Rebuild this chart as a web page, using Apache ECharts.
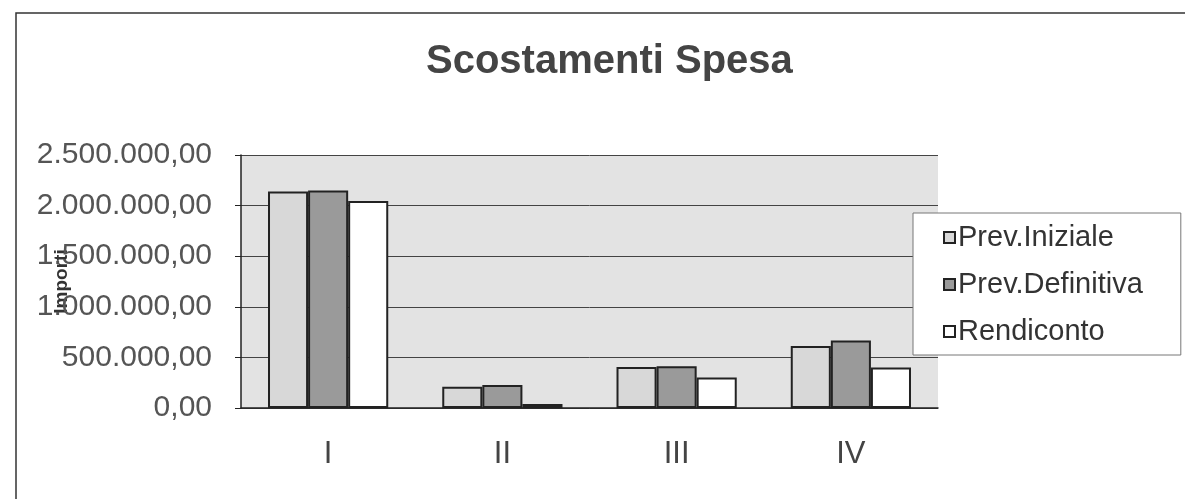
<!DOCTYPE html>
<html>
<head>
<meta charset="utf-8">
<script src="https://cdn.jsdelivr.net/npm/echarts@6/dist/echarts.min.js"></script>
<style>
  html, body { margin: 0; padding: 0; background: #fff; }
  #chart { width: 1185px; height: 499px; }
</style>
</head>
<body>
<div id="chart"></div>
<script>
// chart data
var categories = ['I', 'II', 'III', 'IV'];
var prevIniziale = [2140000, 210000, 405000, 612000];
var prevDefinitiva = [2150000, 228000, 412000, 668000];
var rendiconto = [2045000, 40000, 302000, 400000];
var yTicks = { min: 0, max: 2500000, interval: 500000 };

function fmtIt(v) {
  var s = Math.round(v).toString().replace(/\B(?=(\d{3})+(?!\d))/g, '.');
  return s + ',00';
}

var barBorder = { borderColor: '#222', borderWidth: 2 };

var myChart = echarts.init(document.getElementById('chart'));
myChart.setOption({
  backgroundColor: '#fff',
  animation: false,
  title: {
    text: 'Scostamenti Spesa',
    left: 421,
    top: 37,
    textStyle: {
      fontFamily: 'Liberation Sans',
      fontSize: 40,
      fontWeight: 'bold',
      color: '#444'
    }
  },
  graphic: [{
    type: 'polyline',
    shape: { points: [[16, 499], [16, 13], [1185, 13]] },
    style: { stroke: '#333', lineWidth: 1.5, fill: null }
  }],
  legend: {
    orient: 'vertical',
    left: 913,
    top: 213,
    padding: [10, 38, 9, 30],
    itemGap: 18,
    itemWidth: 11,
    itemHeight: 11,
    icon: 'rect',
    backgroundColor: '#fff',
    borderColor: '#777',
    borderWidth: 1,
    textStyle: {
      fontFamily: 'Liberation Sans',
      fontSize: 29,
      color: '#333',
      padding: [0, 0, 0, -2]
    },
    data: ['Prev.Iniziale', 'Prev.Definitiva', 'Rendiconto']
  },
  grid: {
    left: 241,
    right: 247,
    top: 155,
    bottom: 91,
    show: true,
    backgroundColor: '#e3e3e3',
    borderWidth: 0
  },
  xAxis: {
    type: 'category',
    data: categories,
    axisLine: { lineStyle: { color: '#222', width: 1.5 } },
    axisTick: { length: 7, lineStyle: { color: '#222' } },
    axisLabel: {
      margin: 31,
      fontFamily: 'Liberation Sans',
      fontSize: 31,
      color: '#444'
    }
  },
  yAxis: {
    type: 'value',
    min: yTicks.min,
    max: yTicks.max,
    interval: yTicks.interval,
    name: 'Importi',
    nameLocation: 'middle',
    nameGap: 170,
    nameRotate: 90,
    nameMoveOverlap: false,
    nameTextStyle: {
      fontFamily: 'Liberation Sans',
      fontSize: 19,
      fontWeight: 'bold',
      color: '#333'
    },
    axisLine: { show: true, lineStyle: { color: '#222', width: 1.5 } },
    axisTick: { show: true, length: 6, lineStyle: { color: '#222' } },
    splitLine: { lineStyle: { color: '#444', width: 1 } },
    axisLabel: {
      margin: 29,
      fontFamily: 'Liberation Sans',
      fontSize: 30,
      color: '#555',
      formatter: fmtIt
    }
  },
  series: [{
    name: 'Prev.Iniziale',
    type: 'bar',
    data: prevIniziale,
    barGap: '0%',
    barCategoryGap: '31%',
    itemStyle: Object.assign({ color: '#d8d8d8' }, barBorder)
  }, {
    name: 'Prev.Definitiva',
    type: 'bar',
    data: prevDefinitiva,
    itemStyle: Object.assign({ color: '#9a9a9a' }, barBorder)
  }, {
    name: 'Rendiconto',
    type: 'bar',
    data: rendiconto,
    itemStyle: Object.assign({ color: '#ffffff' }, barBorder)
  }]
});
window.addEventListener('resize', function() {
  myChart.resize()
})
</script>
</body>
</html>
